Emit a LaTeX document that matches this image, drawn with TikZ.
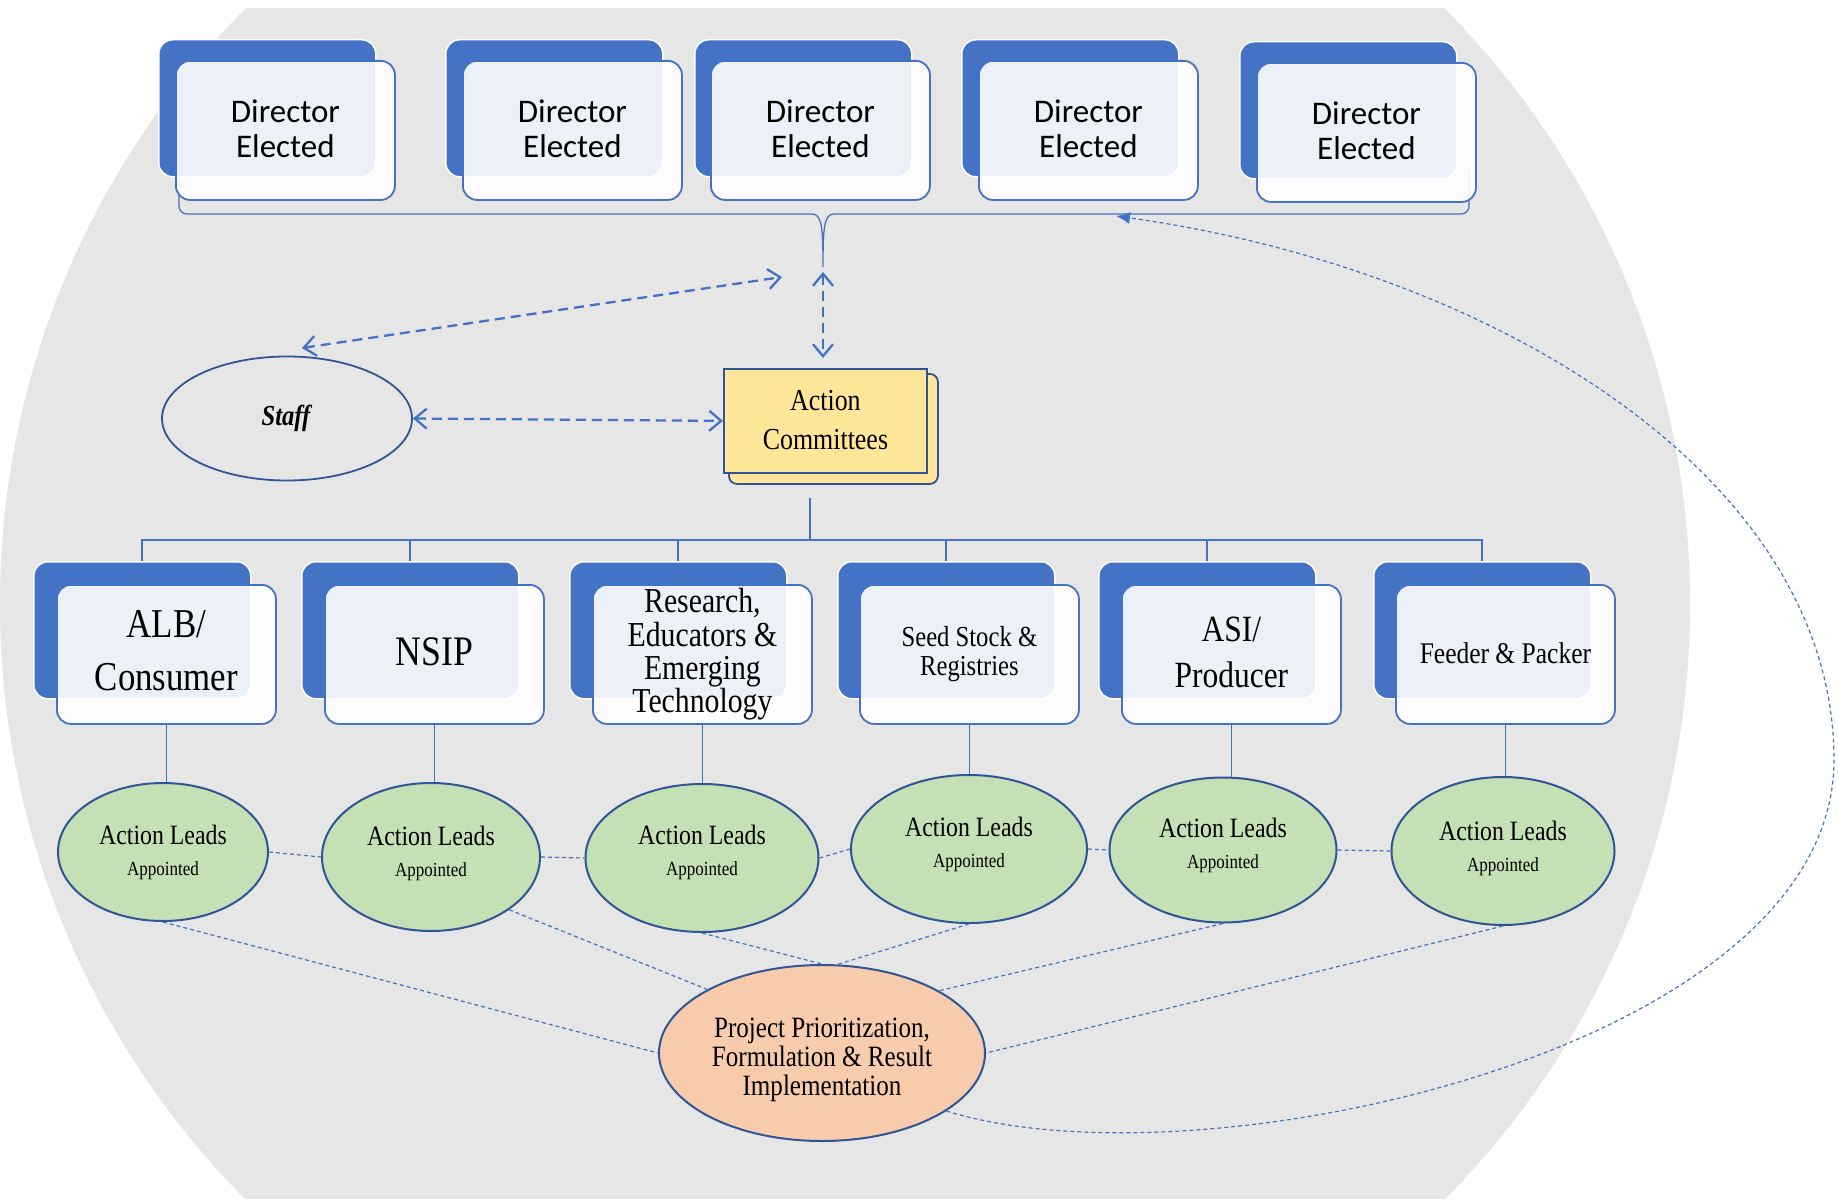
\documentclass[tikz,border=0pt]{standalone}
\usepackage{fontspec}
\setmainfont{Liberation Serif}
\newfontfamily\serifc[FakeStretch=0.85]{Liberation Serif}
\newfontfamily\calib{Carlito}
\usetikzlibrary{shapes.geometric,arrows.meta}
\definecolor{blueA}{HTML}{4472C4}
\definecolor{darkB}{HTML}{2F5597}
\definecolor{bggray}{HTML}{E7E6E6}
\definecolor{acyel}{HTML}{FFE699}
\definecolor{lgreen}{HTML}{C5E0B4}
\definecolor{peach}{HTML}{F8CBAD}
\newcommand\myfs[2]{\serifc\fontsize{#1}{#2}\selectfont\lineskiplimit=-100pt\lineskip=0pt}
\newcommand\dirfont{\calib\fontsize{33}{35}\selectfont\lineskiplimit=-100pt\lineskip=0pt}
% centred lines (separated by \cr), moved up by #1 without changing the box size
\newcommand\ml[2]{\raisebox{#1}[\height][\depth]{\vbox{\halign{\hfil##\hfil\cr#2\crcr}}}}
\newcommand\leadtxt[1]{\ml{#1}{Action Leads\cr{\fontsize{20}{31}\selectfont Appointed}}}
\begin{document}
\begin{tikzpicture}[x=1pt,y=-1pt,
  backbox/.style={rectangle, rounded corners=14pt, fill=blueA, draw=white, line width=1.5pt,
    minimum width=217pt, minimum height=137pt, anchor=north west, inner sep=0pt},
  frontbox/.style={rectangle, rounded corners=14pt, draw=blueA, line width=1.8pt, fill=white,
    fill opacity=0.9, text opacity=1, minimum width=219pt, minimum height=139pt,
    anchor=north west, inner sep=0pt},
  bracket/.style={draw=blueA, line width=1.3pt},
  tree/.style={draw=blueA, line width=2pt},
  drop/.style={draw=blueA, line width=1.5pt},
  dasharrow/.style={draw=blueA, line width=2.3pt, dash pattern=on 10pt off 6pt,
    {Straight Barb[length=12pt,width=20pt]}-{Straight Barb[length=12pt,width=20pt]}},
  thindash/.style={draw=blueA, line width=1.2pt, dash pattern=on 4pt off 3pt},
  leadell/.style={ellipse, draw=darkB, line width=2pt, fill=lgreen, inner sep=0pt,
    font=\myfs{28}{31}},
]
\useasboundingbox (0,0) rectangle (1838,1199);
% background disc
\begin{scope}
  \clip (0,9) rectangle (1838,1198);
  \fill[bggray] (845,604) circle[radius=845pt];
\end{scope}

% bracket joining the directors
\coordinate (brL) at (179,168);
\coordinate (brR) at (1469,170);
\coordinate (tipd) at (1116,216);
\draw[bracket] (brL) -- (179,206) to[out=-90,in=180] (187,214) -- (812,214)
  .. controls (822,214) and (823,228) .. (823,267)
  .. controls (823,228) and (824,214) .. (834,214) -- (1461,214)
  to[out=0,in=-90] (1469,206) -- (brR);

% directors
\foreach \i/\bx/\by/\fx/\fy in {1/158/39/175/60, 2/445/39/462/60, 3/694/39/710/60, 4/961/39/978/60, 5/1239/41/1256/62}{
  \node[backbox] (d\i b) at (\bx,\by) {};
  \node[frontbox, font=\dirfont] (d\i) at (\fx,\fy) {\ml{1.5pt}{Director\cr Elected}};
}

% staff and action committees
\node[ellipse, draw=darkB, line width=1.8pt, minimum width=250pt, minimum height=124pt, inner sep=0pt,
  font=\myfs{29}{32}] (staff) at (287,418.5) {\textbf{\textit{Staff}}};
\node[rectangle, rounded corners=8pt, fill=acyel, draw=darkB, line width=1.8pt, minimum width=209pt,
  minimum height=110pt, anchor=north west, inner sep=0pt] (acb) at (728,373) {};
\node[rectangle, fill=acyel, draw=darkB, line width=1.8pt, minimum width=203pt, minimum height=104pt,
  anchor=north west, inner sep=0pt, font=\myfs{30.5}{38.7}] (ac) at (723,368) {\ml{1pt}{Action\cr Committees}};

\coordinate (sA) at (302,348);
\coordinate (sB) at (782,277);
\coordinate (vA) at (823,272);
\coordinate (vB) at (823,358);
\draw[dasharrow] (sA) -- (sB);
\draw[dasharrow] (vA) -- (vB);
\draw[dasharrow] (staff.east) -- (ac.west);

% second row
\node[backbox] (bA) at (33,561) {};
\node[backbox] (bB) at (301,561) {};
\node[backbox] (bC) at (569,561) {};
\node[backbox] (bD) at (837,561) {};
\node[backbox] (bE) at (1098,561) {};
\node[backbox] (bF) at (1373,561) {};
\node[frontbox, font=\myfs{41}{52.7}] (fA) at (56,584) {\ml{3.5pt}{ALB/\cr Consumer}};
\node[frontbox, font=\myfs{42}{46}] (fB) at (324,584) {\ml{3pt}{NSIP}};
\node[frontbox, font=\myfs{35}{33.4}] (fC) at (592,584) {\ml{0pt}{Research,\cr Educators \&\cr Emerging\cr Technology}};
\node[frontbox, font=\myfs{29}{29.3}] (fD) at (859,584) {\ml{0pt}{Seed Stock \&\cr Registries}};
\node[frontbox, font=\myfs{37}{45.7}] (fE) at (1121,584) {\ml{2pt}{ASI/\cr Producer}};
\node[frontbox, font=\myfs{30}{34}] (fF) at (1395,584) {\ml{1.5pt}{Feeder \& Packer}};

\coordinate (trunk) at (810,498);
\coordinate (hub) at (810,540);
\draw[tree] (trunk) -- (hub);
\foreach \b in {bA,bB,bC,bD,bE,bF}{\draw[tree] (hub) -| (\b.north);}

% action leads
\node[leadell, minimum width=210pt, minimum height=138pt] (l1) at (163,852) {\leadtxt{0pt}};
\node[leadell, minimum width=218pt, minimum height=148pt] (l2) at (431,857) {\leadtxt{3.8pt}};
\node[leadell, minimum width=233pt, minimum height=148pt] (l3) at (702,858) {\leadtxt{6pt}};
\node[leadell, minimum width=236pt, minimum height=148pt] (l4) at (969,849) {\leadtxt{5pt}};
\node[leadell, minimum width=227pt, minimum height=145pt] (l5) at (1223,850) {\leadtxt{5pt}};
\node[leadell, minimum width=223pt, minimum height=148pt] (l6) at (1503,851) {\leadtxt{2.6pt}};

\draw[drop] (fA.south) -- (fA.south |- l1.north);
\draw[drop] (fB.south) -- (fB.south |- l2.north);
\draw[drop] (fC.south) -- (fC.south |- l3.north);
\draw[drop] (fD.south) -- (fD.south |- l4.north);
\draw[drop] (fE.south) -- (fE.south |- l5.north);
\draw[drop] (fF.south) -- (fF.south |- l6.north);

\draw[thindash] (l1.east) -- (l2.west);
\draw[thindash] (l2.east) -- (l3.west);
\draw[thindash] (l3.east) -- (l4.west);
\draw[thindash] (l4.east) -- (l5.west);
\draw[thindash] (l5.east) -- (l6.west);

% project
\node[ellipse, draw=darkB, line width=2pt, fill=peach, minimum width=326pt, minimum height=176pt,
  inner sep=0pt, font=\myfs{29.5}{28.7}] (pp) at (822,1053)
  {\ml{-7pt}{Project Prioritization,\cr Formulation \& Result\cr Implementation}};

\draw[thindash] (l1.south) -- (pp.west);
\draw[thindash] (l2.-34) -- (pp.151);
\draw[thindash] (l3.south) -- (pp.north);
\draw[thindash] (l4.south) -- (pp.80);
\draw[thindash] (l5.south) -- (pp.28);
\draw[thindash] (l6.south) -- (pp.east);

\draw[thindash, -{Latex[length=14pt,width=12pt]}] (pp.-25)
  .. controls (1200,1190) and (1834,1050) .. (1834,760)
  .. controls (1834,480) and (1500,270) .. (tipd);
\end{tikzpicture}
\end{document}
